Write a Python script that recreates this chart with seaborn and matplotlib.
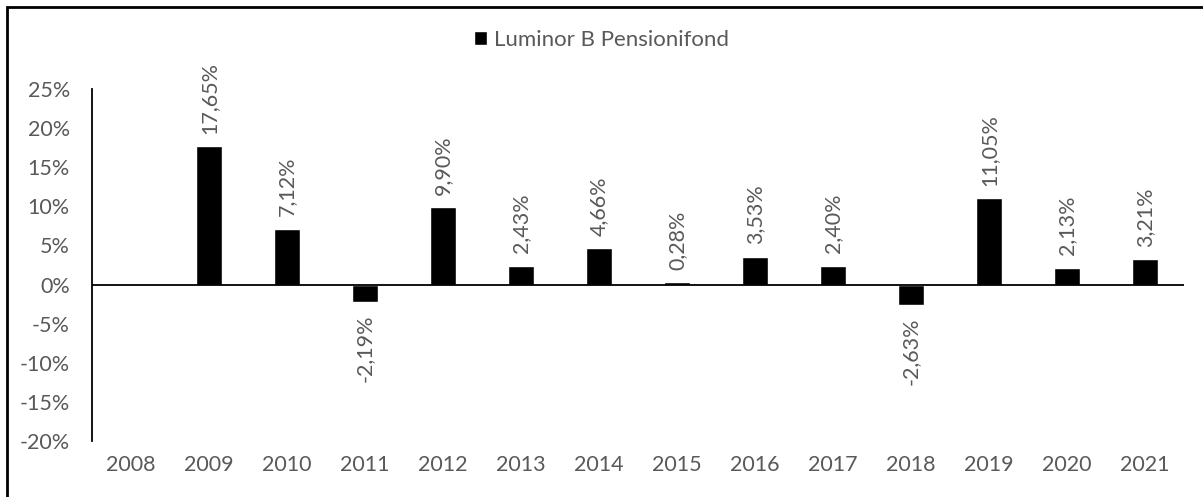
import numpy as np
import pandas as pd
import seaborn as sns
import matplotlib.pyplot as plt
from matplotlib.patches import Rectangle

years = ["2008", "2009", "2010", "2011", "2012", "2013", "2014",
         "2015", "2016", "2017", "2018", "2019", "2020", "2021"]
returns = [np.nan, 17.65, 7.12, -2.19, 9.90, 2.43, 4.66,
           0.28, 3.53, 2.40, -2.63, 11.05, 2.13, 3.21]
series_name = "Luminor B Pensionifond"
yticks = [-20, -15, -10, -5, 0, 5, 10, 15, 20, 25]

df = pd.DataFrame({"Year": years, "Return": returns})

sns.set_style("white")
plt.rcParams["font.family"] = ["Lato", "DejaVu Sans"]
grey = "#595959"
fs = 15.5

fig = plt.figure(figsize=(12.03, 4.97), dpi=100)
ax = fig.add_axes([92 / 1203, 56 / 497, 1092 / 1203, 352 / 497])

sns.barplot(data=df, x="Year", y="Return", order=years, color="black",
            width=0.33, ax=ax, label=series_name, saturation=1)

ax.set_ylim(-20, 25)
ax.set_xlim(-0.5, len(years) - 0.5)
ax.axhline(0, color="black", lw=1.3, zorder=3)
for s in ["top", "right", "bottom"]:
    ax.spines[s].set_visible(False)
ax.spines["left"].set_color("black")
ax.spines["left"].set_linewidth(1.3)
ax.set_yticks(yticks)
ax.set_yticklabels([f"{t}%" for t in yticks])
ax.tick_params(axis="y", length=0, pad=16, labelsize=fs, labelcolor=grey)
ax.tick_params(axis="x", length=0, pad=10, labelsize=fs, labelcolor=grey)
ax.set_xlabel("")
ax.set_ylabel("")

for i, v in enumerate(returns):
    if np.isnan(v):
        continue
    txt = f"{v:.2f}%".replace(".", ",")
    if v >= 0:
        ax.annotate(txt, (i, v), xytext=(0, 9), textcoords="offset points",
                    rotation=90, ha="center", va="bottom", fontsize=fs, color=grey)
    else:
        ax.annotate(txt, (i, v), xytext=(0, -9), textcoords="offset points",
                    rotation=90, ha="center", va="top", fontsize=fs, color=grey)

leg = ax.legend(loc="center", bbox_to_anchor=(0.5, (497 - 40) / 497),
                bbox_transform=fig.transFigure, frameon=False, fontsize=16,
                handlelength=0.6, handleheight=0.6, handletextpad=0.3)
for t in leg.get_texts():
    t.set_color(grey)

fig.add_artist(Rectangle((7 / 1203, -0.1), 1.2, (490 / 497) + 0.1,
                         transform=fig.transFigure, fill=False,
                         edgecolor="black", lw=2))

fig.savefig("out.png", dpi=100)
